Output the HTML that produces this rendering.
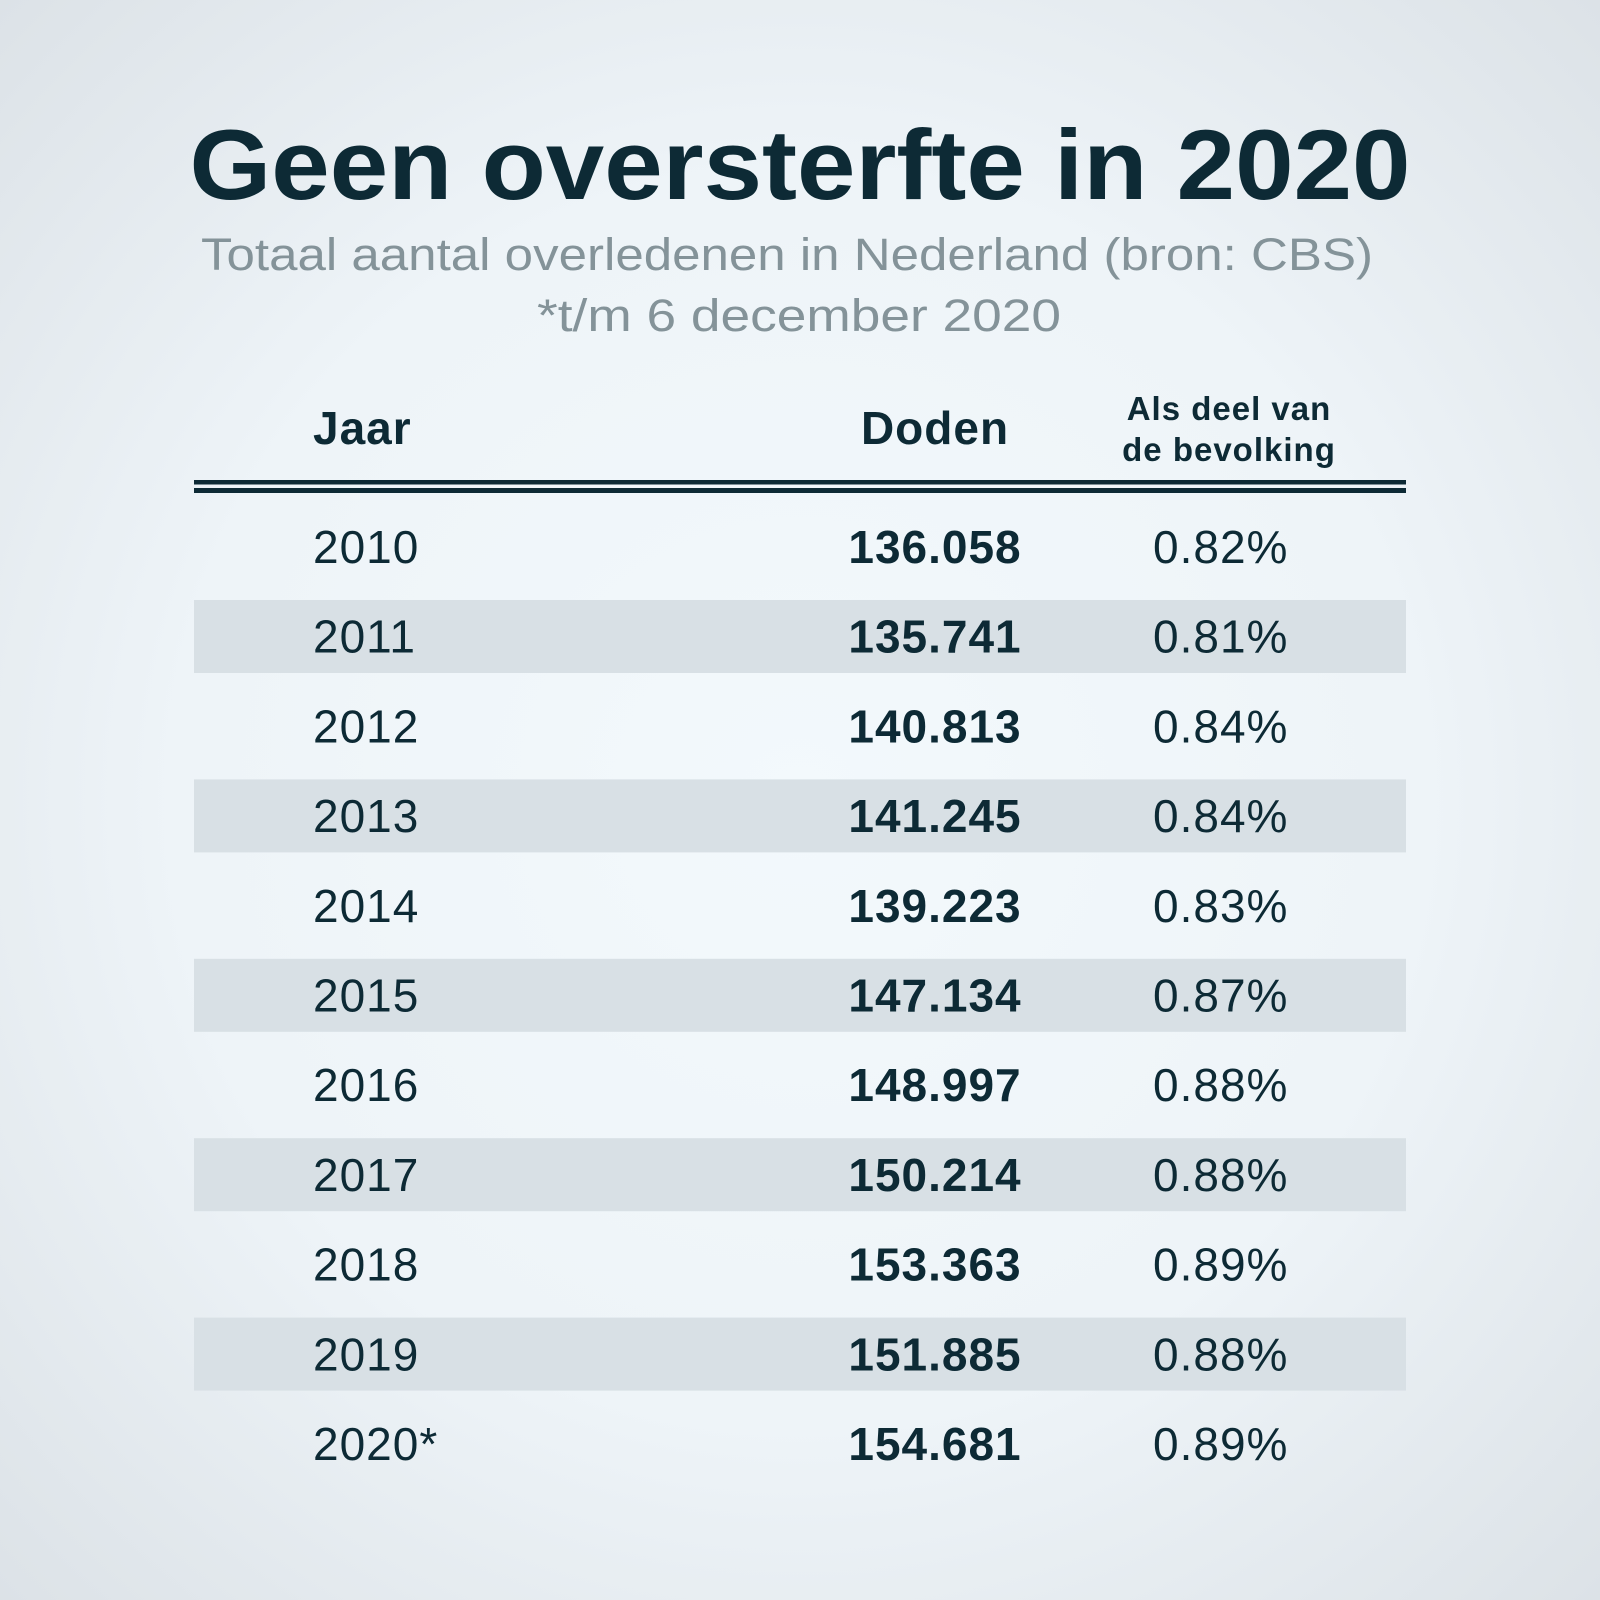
<!DOCTYPE html>
<html><head><meta charset="utf-8"><style>
html,body{margin:0;padding:0;}
body{width:1600px;height:1600px;background:radial-gradient(ellipse at 50% 50%,#f3f9fc 0%,#eef4f8 55%,#dce2e7 100%);font-family:"Liberation Sans",sans-serif;}
svg{display:block}
</style></head><body>
<svg id="chart" width="1600" height="1600" viewBox="0 0 1600 1600">
<text x="800" y="199" text-anchor="middle" font-family="Liberation Sans" font-weight="bold" font-size="99" fill="#0d2a35" textLength="1221" lengthAdjust="spacingAndGlyphs">Geen oversterfte in 2020</text>
<text x="787" y="270" text-anchor="middle" font-family="Liberation Sans" font-size="45" fill="#849399" textLength="1172" lengthAdjust="spacingAndGlyphs">Totaal aantal overledenen in Nederland (bron: CBS)</text>
<text x="799" y="331" text-anchor="middle" font-family="Liberation Sans" font-size="45" fill="#849399" textLength="524" lengthAdjust="spacingAndGlyphs">*t/m 6 december 2020</text>
<text x="313" y="444" font-weight="bold" font-size="46" fill="#0d2a35" letter-spacing="1">Jaar</text>
<text x="935" y="444" text-anchor="middle" font-weight="bold" font-size="46" fill="#0d2a35" letter-spacing="1">Doden</text>
<text x="1229" y="420" text-anchor="middle" font-weight="bold" font-size="33" fill="#0d2a35" letter-spacing="1">Als deel van</text>
<text x="1229" y="461" text-anchor="middle" font-weight="bold" font-size="33" fill="#0d2a35" letter-spacing="1">de bevolking</text>
<rect x="194" y="480" width="1212" height="4.5" fill="#0d2a35"/>
<rect x="194" y="488" width="1212" height="5" fill="#0d2a35"/>
<g id="rows"></g>
</svg>
<script>
const years = ["2010","2011","2012","2013","2014","2015","2016","2017","2018","2019","2020*"];
const deaths = ["136.058","135.741","140.813","141.245","139.223","147.134","148.997","150.214","153.363","151.885","154.681"];
const shares = ["0.82%","0.81%","0.84%","0.84%","0.83%","0.87%","0.88%","0.88%","0.89%","0.88%","0.89%"];
const NS="http://www.w3.org/2000/svg";
const g=document.getElementById('rows');
const pitch=89.7, base0=563;
function mk(tag,attrs){const e=document.createElementNS(NS,tag);for(const k in attrs)e.setAttribute(k,attrs[k]);return e;}
years.forEach((y,i)=>{
  const b=base0+pitch*i;
  if(i%2===1){
    const r=mk('rect',{x:194,y:(600+(i-1)*pitch).toFixed(1),width:1212,height:73,fill:'#d8e0e5'});
    
    
    g.appendChild(r);
  }
  const t1=mk('text',{x:313,y:b.toFixed(1),'font-size':46,fill:'#0d2a35','letter-spacing':'1'});
  t1.textContent=y;
  
  
  g.appendChild(t1);
  const t2=mk('text',{x:935,y:b.toFixed(1),'text-anchor':'middle','font-size':46,'font-weight':'bold',fill:'#0d2a35','letter-spacing':'1'});
  t2.textContent=deaths[i];
  
  
  g.appendChild(t2);
  const t3=mk('text',{x:1153,y:b.toFixed(1),'font-size':46,fill:'#0d2a35','letter-spacing':'1'});
  t3.textContent=shares[i];
  
  
  g.appendChild(t3);
});
</script>
</body></html>
